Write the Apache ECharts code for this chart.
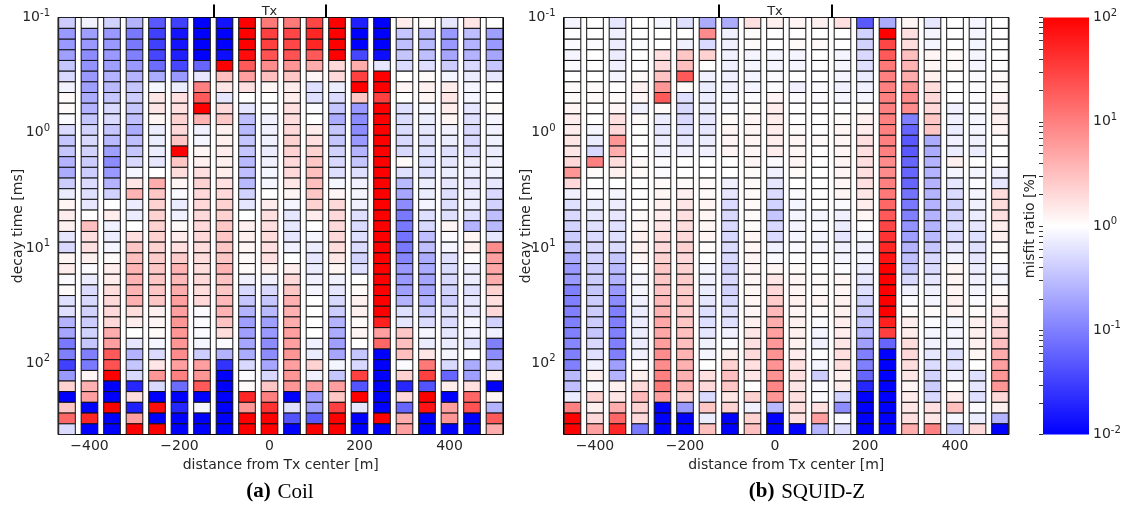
<!DOCTYPE html>
<html><head><meta charset="utf-8">
<script src="https://cdn.jsdelivr.net/npm/echarts@6/dist/echarts.min.js"></script>
<style>html,body{margin:0;padding:0;background:#fff}#c{width:1126px;height:508px}</style>
</head><body><div id="c"></div>
<script>
// ---------------- data ----------------
const distances = [-450,-400,-350,-300,-250,-200,-150,-100,-50,0,50,100,150,200,250,300,350,400,450,500];
const gateTimesMs = [0.111,0.138,0.171,0.211,0.262,0.324,0.401,0.497,0.615,0.762,0.943,1.17,1.45,1.79,2.22,2.75,3.40,4.21,5.22,6.46,8.00,9.90,12.3,15.2,18.8,23.3,28.8,35.7,44.2,54.8,67.8,84.0,104,129,159,197,244,303,375];
const xTickValues = [-400,-200,0,200,400];
const yTickExponents = [-1,0,1,2];
const colorbarExponents = [-2,-1,0,1,2];
const txLoopEdges = [-125,125];
const panelTitles = [['(a)','Coil'],['(b)','SQUID-Z']];
// misfit ratio, given as log10 of the ratio in % (rows = time gates, columns = distances)
const coilLog10 = [
[-0.4,-0.1,-0.35,-0.6,-1.3,-1.5,-2,-1.85,2,1.05,1.05,1.45,2,-1.75,-2,0.15,0.04,-0.2,0.2,0],
[-0.8,-0.75,-0.8,-1.05,-1.5,-1.85,-2,-2,2,1.5,1.45,1.7,2,-2,-2,-0.45,-0.55,-0.8,-0.5,-0.75],
[-0.8,-0.8,-0.8,-1.05,-1.5,-1.85,-2,-2,2,1.5,1.45,1.7,2,-2,-2,-0.5,-0.55,-0.8,-0.6,-0.8],
[-0.75,-0.9,-0.8,-1,-1.45,-1.75,-2,-1.9,1.9,1.35,1.35,1.3,2,-1.45,-1.9,-0.45,-0.5,-0.7,-0.6,-0.7],
[-0.45,-0.85,-0.75,-0.8,-1.15,-1.45,-1.2,2,1.3,0.9,0.82,0.65,0.3,0.65,-0.2,-0.28,-0.25,-0.4,-0.3,-0.45],
[-0.3,-0.8,-0.6,-0.6,-0.65,-0.8,-0.2,0.5,0.75,0.5,0.45,0.08,0.3,1.5,2,0,0.04,-0.08,-0.15,-0.2],
[-0.1,-0.75,-0.55,-0.45,-0.08,-0.15,1,0.2,0.25,0.08,0.15,-0.25,-0.15,2,2,0.08,0.12,0.15,-0.08,0],
[0.05,-0.65,-0.45,-0.4,0.2,0.25,1.3,-0.2,0,0,0.15,-0.25,-0.28,0.45,1.5,0,0.08,0.2,-0.08,0],
[0.04,-0.6,-0.3,-0.45,0.2,0.25,2,0.3,-0.2,-0.04,0.25,-0.04,-0.45,-0.8,2,-0.25,-0.08,0.15,-0.2,0.04],
[-0.04,-0.45,-0.28,-0.5,0.08,0.35,0.6,0.45,-0.5,-0.12,0.27,0,-0.65,-0.9,2,-0.28,-0.15,0.08,-0.25,-0.08],
[-0.28,-0.35,-0.45,-0.65,-0.15,0.3,-0.12,0.12,-0.55,-0.12,0.3,0.15,-0.45,-0.9,2,-0.28,-0.2,-0.12,-0.3,-0.12],
[-0.45,-0.3,-0.55,-0.5,-0.15,0.45,-0.08,0.12,-0.45,-0.12,0.35,0.25,-0.45,-0.8,2,-0.3,-0.25,-0.15,-0.3,-0.12],
[-0.45,-0.35,-0.75,-0.45,-0.15,2,0.08,0.15,-0.45,-0.15,0.35,0.35,-0.35,-0.6,2,-0.3,-0.25,-0.25,-0.28,-0.15],
[-0.6,-0.4,-0.9,-0.3,-0.2,0.45,0.12,0.12,-0.55,-0.12,0.3,0.45,-0.3,-0.45,2,0.04,-0.25,-0.2,-0.15,-0.12],
[-0.65,-0.4,-0.8,-0.08,0,0.27,0.25,0.15,-0.5,-0.08,0.3,0.5,-0.25,-0.25,2,-0.25,-0.25,-0.15,-0.15,-0.12],
[-0.4,-0.28,-0.6,0.2,0.65,0.08,0.35,0.25,-0.55,-0.08,0.2,0.5,-0.08,-0.12,2,-0.55,-0.15,-0.2,-0.2,-0.2],
[-0.15,-0.25,-0.35,0.6,0.45,-0.03,0.3,0.3,-0.35,0,0.08,0.45,0.08,-0.08,2,-0.7,-0.15,-0.25,-0.15,-0.3],
[0.08,-0.2,0,-0.15,0.35,-0.15,0.3,0.35,-0.2,0.15,-0.08,0.35,0.3,-0.12,2,-0.9,-0.08,-0.25,-0.15,-0.35],
[0.15,0,0.15,-0.15,0.35,-0.12,0.3,0.35,0,0.25,-0.2,0.15,0.3,-0.25,2,-1.05,-0.25,-0.25,-0.25,-0.5],
[0.12,0.5,-0.12,0,0.35,0.04,0.3,0.45,0.12,0.25,-0.2,0,0.3,-0.28,2,-1.05,-0.3,0.08,-0.6,-0.55],
[-0.2,0.25,-0.15,0.25,0.35,0.15,0.3,0.45,0.12,0.27,-0.2,-0.08,0.3,-0.25,2,-1.1,-0.5,-0.04,0.08,-0.2],
[-0.3,0.25,-0.08,0.45,0.35,0.25,0.27,0.45,0.08,0.25,-0.12,-0.15,0.27,-0.28,2,-1.05,-0.5,-0.08,0.12,0.9],
[0.08,0.12,0.04,0.5,0.4,0.4,0.27,0.45,0.04,0.25,0,-0.2,0.2,-0.35,2,-0.95,-0.65,-0.25,0,0.75],
[0.15,-0.04,0.15,0.6,0.45,0.6,0.27,0.6,0.04,0.12,0.15,-0.15,0.08,-0.25,2,-0.8,-0.65,-0.28,-0.15,0.7],
[-0.04,-0.15,0.15,0.6,0.45,0.55,0.3,0.47,-0.12,-0.12,0.3,-0.12,-0.12,0,2,-0.8,-0.7,-0.3,-0.15,0.65],
[0.04,-0.28,0.27,0.6,0.45,0.65,0.27,0.45,-0.3,-0.3,0.45,-0.08,-0.2,0.04,2,-0.75,-0.7,-0.35,-0.25,0.35],
[-0.25,-0.3,0.3,0.62,0.45,0.75,0.3,0.55,-0.45,-0.45,0.62,0,-0.3,0.12,2,-0.6,-0.6,-0.4,-0.2,0.25],
[-0.25,-0.35,0.3,0.27,0.12,0.75,-0.04,0.6,-0.6,-0.55,0.62,0,-0.4,0.12,2,-0.25,-0.4,-0.25,-0.2,0.3],
[-0.6,-0.4,0.3,0.15,0.08,0.82,-0.04,0.47,-0.75,-0.75,0.65,0,-0.6,0.04,1.75,-0.2,-0.28,-0.28,-0.08,-0.35],
[-0.7,-0.35,0.65,0,0.04,0.82,-0.04,0.27,-0.75,-0.8,0.75,0,-0.65,0.08,0.75,0.45,-0.08,-0.2,-0.12,-0.12],
[-1.05,-0.45,0.75,-0.2,-0.08,0.82,-0.08,-0.04,-0.7,-0.9,0.75,-0.12,-0.75,0,1.2,0.5,-0.15,-0.15,-0.25,-1],
[-1,-1,1.3,-0.6,-0.28,0.9,-0.4,-0.6,-0.65,-0.9,0.82,-0.15,-0.7,-0.45,-2,0.5,0.2,-0.08,0,-0.9],
[-1.5,-1.05,1.35,-0.45,0.2,0.75,0.75,-1.6,-0.3,-0.7,0.75,0.35,-0.08,-0.3,-2,-0.04,1.05,-0.3,-0.65,-0.5],
[-0.8,0.08,2,-0.3,0.82,1,0.82,-2,-0.04,-0.3,0.82,-0.12,-0.45,1.5,-2,0.35,1.5,-1.2,-0.75,0.12],
[0.35,0.62,-2,-1.7,-0.3,-1.15,1.3,-2,0.04,0.45,0.82,0.75,0.75,-1.35,-2,-1.7,-1.35,0.15,0.25,-2],
[-2,0.75,-2,0.27,-2,-2,-2,-2,1.7,1,-2,-0.8,0.45,2,-2,0.3,2,-2,1.2,0.08],
[0.45,-2,2,-1.75,1.9,-1.7,-0.08,-2,0.82,1.6,-0.25,-0.75,1.5,-0.2,-2,-1.2,1.85,0.75,1.35,-0.6],
[1.2,1.7,-2,0.75,-2,-2,-2,-2,2,2,-1.35,-1.3,2,-2,2,0.65,-2,0.82,-2,1.3],
[-0.28,-2,-2,2,2,-2,-2,-2,2,2,-2,2,2,-2,-2,0.75,-2,-2,-2,0.65]
];
const squidLog10 = [
[-0.08,0,-0.2,0,-0.08,-0.25,-0.65,-0.65,0.25,0.12,0.08,0.12,0.25,-1.3,-0.65,0.08,-0.2,0,-0.08,0],
[0,0,-0.12,0,0,0,0.9,-0.12,0.04,0,0,0,0,-0.35,2,0.25,-0.08,0,-0.08,0],
[-0.04,-0.04,-0.15,-0.04,0,-0.12,-0.28,-0.12,0.04,0,0.04,0.04,0,-0.35,1.45,0.27,-0.08,0,-0.08,0],
[-0.08,0,-0.15,0,0.25,0.45,0.35,-0.12,-0.08,-0.08,-0.08,0,-0.08,-0.3,1.3,0.5,0.08,0.04,-0.08,0],
[-0.04,0,-0.12,0,0.3,0.5,0,-0.12,-0.08,-0.08,-0.08,0,-0.08,-0.25,1.05,0.6,0.08,0.04,-0.08,0],
[0,0,-0.08,0.04,0.47,1.3,-0.12,-0.12,-0.08,-0.04,0,0,-0.08,-0.15,1,0.65,0.12,0,-0.04,0.04],
[0.04,0.04,0,0.12,0.82,0.04,-0.15,-0.12,-0.08,-0.04,-0.12,-0.04,-0.12,-0.12,1,0.82,0.27,0,-0.04,0.04],
[0.04,0.04,0.04,0.08,1.3,-0.25,-0.15,-0.08,-0.04,0.08,-0.04,-0.04,-0.08,-0.08,1,0.9,0.3,0,-0.04,0.08],
[0.08,0,0.08,-0.12,0.04,-0.3,-0.15,-0.04,0.04,0.15,0,0,0,0.04,1,0.9,0.3,-0.12,-0.04,0.12],
[0.15,0,0.25,0.04,-0.15,-0.3,-0.2,0.04,0.08,0.15,0,0,0.04,0.12,1,-1,0.45,-0.12,-0.08,0.12],
[0.15,-0.08,0.3,0,-0.2,-0.25,-0.2,0.08,0.08,0.15,0.04,0,0.08,0.15,1,-1.2,0.45,-0.15,-0.08,0.08],
[0.2,-0.15,0.82,0,-0.15,-0.2,-0.15,0.08,0.08,0.15,0.08,0.04,0.08,0.25,1,-1.3,-0.65,-0.12,-0.12,0],
[0.2,-0.3,0.65,0,-0.12,-0.12,-0.12,0.08,0.08,0.15,0.08,0,0.08,0.25,1,-1.3,-0.65,-0.15,-0.15,0],
[0.3,1,0.27,0.04,-0.04,0,0,0,0.08,-0.04,0.08,0,0.08,0.25,0.9,-1.2,-0.6,0.12,0,0],
[0.82,0.04,0.12,0.04,-0.04,0,0,0,0.04,-0.12,0.04,0,0.08,0.25,0.9,-1.2,-0.6,-0.08,-0.08,-0.12],
[0.3,0,0,0,0.04,0.04,0.04,-0.12,0.04,-0.2,0,0,0.08,0.25,1,-1.2,-0.6,-0.2,-0.04,-0.2],
[-0.12,-0.04,-0.08,0,0.08,0.12,0.04,-0.2,0.04,-0.28,-0.04,0,0.08,0.2,1.05,-1.1,-0.6,-0.28,-0.08,0.27],
[-0.25,-0.15,-0.15,0,0.12,0.2,0.08,-0.28,0.04,-0.35,-0.08,0,-0.04,0.15,1.2,-1.05,-0.6,-0.35,-0.12,0.27],
[-0.3,-0.2,-0.2,0.04,0.15,0.25,0.08,-0.3,0.04,-0.45,-0.08,-0.08,-0.12,0.08,1.3,-1,-0.6,-0.35,-0.15,0.25],
[-0.35,-0.25,-0.25,0.08,0.2,0.27,0.08,-0.3,0.04,-0.3,-0.08,-0.04,-0.15,0,1.45,-0.85,-0.6,-0.28,-0.2,0.15],
[-0.4,-0.28,-0.25,0.12,0.27,0.3,0.08,-0.3,0.08,-0.28,-0.08,-0.08,-0.2,-0.08,1.6,-0.75,-0.55,-0.28,-0.25,0.12],
[-0.45,-0.3,-0.28,0.12,0.3,0.35,0.04,-0.28,0.08,-0.12,-0.04,-0.08,-0.12,-0.12,1.7,-0.6,-0.45,-0.2,-0.25,0.04],
[-0.65,-0.35,-0.45,0.08,0.35,0.3,0,-0.3,0.08,-0.04,0,0,-0.08,-0.08,1.85,-0.5,-0.3,-0.08,-0.2,0],
[-0.8,-0.4,-0.55,-0.04,0.45,0.35,-0.08,-0.35,0.08,0.08,0.04,0,-0.04,-0.15,2,-0.45,-0.28,0.08,-0.15,-0.08],
[-0.8,-0.4,-0.6,-0.08,0.45,0.4,-0.12,-0.3,0.08,0.2,0.08,0.04,0.08,-0.2,2,-0.3,-0.2,0.08,-0.12,-0.08],
[-1,-0.45,-0.8,-0.08,0.47,0.4,-0.15,-0.35,0.08,0.3,0.08,0.04,0.08,-0.25,2,-0.12,-0.12,0.08,-0.08,0.04],
[-1,-0.4,-0.9,-0.12,0.55,0.45,-0.2,-0.3,0.08,0.4,0.12,0.08,0.12,-0.35,2,-0.04,-0.08,0.12,-0.04,0.08],
[-1,-0.4,-1,-0.15,0.6,0.4,-0.25,-0.25,0.08,0.55,0.08,0.04,0.12,-0.4,2,0.04,0.04,0.08,0.04,0.2],
[-1,-0.4,-1,-0.15,0.7,0.45,-0.25,-0.25,0.12,0.65,0.12,-0.04,0.15,-0.45,1.75,0.15,-0.04,-0.08,0.12,0.3],
[-1,-0.45,-1,-0.15,0.7,0.5,-0.2,-0.12,0.2,0.75,0.12,-0.08,0.15,-0.55,1.5,0.15,-0.08,-0.08,0.12,0.35],
[-0.95,-0.3,-1,-0.15,0.78,0.5,-0.12,-0.04,0.25,0.8,0.12,-0.12,0.2,-0.75,-1.2,0.27,-0.12,-0.08,0.12,0.5],
[-1,-0.25,-1,-0.12,0.9,0.6,-0.08,0.12,0.3,0.85,0.15,0,0.25,-1,-2,0.3,-0.2,-0.25,0.08,0.65],
[-1,-0.12,-0.75,-0.04,0.9,0.62,0,0.35,0.25,0.85,0.25,-0.08,0.27,-1,-2,0.27,-0.28,-0.25,0,0.75],
[-0.55,0.12,-0.6,0.12,1,0.62,0.25,0.5,0.2,0.85,0.25,-0.4,0.12,-1.2,-2,0.2,-0.35,-0.12,-0.25,0.82],
[-0.5,-0.04,0.12,0.3,1.05,0.62,0.3,0.45,0,0.95,0.2,-0.04,0.15,-1.7,-2,0.08,-0.4,0,-0.2,0.82],
[-0.15,0.35,0.2,0.55,0.75,0.35,-0.28,0.2,0.35,0.82,0.25,-0.04,-0.35,-2,-2,0.15,-0.3,0.15,-0.25,0.3],
[1,0.12,0.65,0.35,-2,-0.8,0.45,0.35,-0.12,-0.55,0.27,0.25,-0.9,-2,-2,0.2,0.25,0.5,-0.04,0.12],
[2,0.3,1.2,0.3,-2,-2,-0.15,-2,0.35,-2,0.25,0.75,-0.04,-2,-2,0.25,0.2,-0.08,-0.15,-0.6],
[2,0.75,1.7,-1.05,-2,-2,0.5,-2,0.5,-2,-2,-0.6,-0.28,-2,-2,0.65,1,-0.45,0.3,-2]
];

// ---------------- drawing ----------------
const FONT = 'DejaVu Sans';
const TXT = '#262626';
const X_MIN = -470, X_MAX = 520;
const CELL_W = 37; // metres
const gateLog = gateTimesMs.map(t => Math.log10(t));
const gateTop = gateLog.map((l, j) => j === 0 ? l - (gateLog[1] - gateLog[0]) / 2 : (gateLog[j - 1] + l) / 2);
const gateBot = gateLog.map((l, j) => j === gateLog.length - 1 ? l + (l - gateLog[j - 1]) / 2 : (l + gateLog[j + 1]) / 2);
const Y_MIN = gateTop[0], Y_MAX = gateBot[gateBot.length - 1];
const yMinorTicks = [];
for (let n = -1; n <= 2; n++) for (let k = 1; k <= 9; k++) { const v = n + Math.log10(k); if (v >= Y_MIN - 1e-9 && v <= Y_MAX) yMinorTicks.push(v); }
const cbTicks = [];
for (let n = -2; n <= 1; n++) for (let k = 1; k <= 9; k++) cbTicks.push(n + Math.log10(k));
cbTicks.push(2);

function misfitColor(e) {
  const t = Math.max(-1, Math.min(1, e / 2));
  if (t >= 0) { const g = Math.round(255 * (1 - t)); return 'rgb(255,' + g + ',' + g + ')'; }
  const g = Math.round(255 * (1 + t)); return 'rgb(' + g + ',' + g + ',255)';
}
const supRich = {
  b: { fontFamily: FONT, fontSize: 14, color: TXT },
  s: { fontFamily: FONT, fontSize: 10, color: TXT, verticalAlign: 'bottom', padding: [0, 0, 9, 0] }
};
const supFmt = v => { const e = Math.round(v); return '{b|10}{s|' + e + '}'; };

const grids = [
  { left: 58, top: 17.5, width: 445.5, height: 417, show: true, borderColor: '#000', borderWidth: 1, backgroundColor: '#fff' },
  { left: 563.5, top: 17.5, width: 445.5, height: 417, show: true, borderColor: '#000', borderWidth: 1, backgroundColor: '#fff' },
  { left: 1043, top: 17.5, width: 46, height: 417, show: false }
];
const xAxes = [], yAxes = [], series = [];
const nameStyle = { fontFamily: FONT, fontSize: 14, color: TXT };
[coilLog10, squidLog10].forEach((rows, g) => {
  const xi = xAxes.length, yi = yAxes.length;
  xAxes.push({ gridIndex: g, type: 'value', min: X_MIN, max: X_MAX, position: 'bottom', axisLine: { show: false }, splitLine: { show: false },
    axisTick: { inside: true, length: 4, customValues: xTickValues, lineStyle: { color: '#000' } },
    axisLabel: { customValues: xTickValues, formatter: v => v < 0 ? '\u2212' + (-v) : '' + v, color: TXT, fontFamily: FONT, fontSize: 14, margin: 5 },
    name: 'distance from Tx center [m]', nameLocation: 'middle', nameGap: 19, nameTextStyle: nameStyle });
  xAxes.push({ gridIndex: g, type: 'value', min: X_MIN, max: X_MAX, position: 'top', axisLine: { show: false }, splitLine: { show: false },
    axisTick: { inside: true, length: 4, customValues: xTickValues, lineStyle: { color: '#000' } }, axisLabel: { show: false } });
  xAxes.push({ gridIndex: g, type: 'value', min: X_MIN, max: X_MAX, position: 'top', axisLine: { show: false }, splitLine: { show: false },
    axisTick: { inside: false, length: 13, customValues: txLoopEdges, lineStyle: { color: '#000', width: 2 } },
    axisLabel: { customValues: [0], formatter: () => 'Tx', color: TXT, fontFamily: FONT, fontSize: 13, margin: -1 } });
  yAxes.push({ gridIndex: g, type: 'value', inverse: true, min: Y_MIN, max: Y_MAX, position: 'left', axisLine: { show: false }, splitLine: { show: false },
    axisTick: { inside: true, length: 4, customValues: yMinorTicks, lineStyle: { color: '#000' } },
    axisLabel: { customValues: yTickExponents, formatter: supFmt, rich: supRich, margin: 8 },
    name: 'decay time [ms]', nameLocation: 'middle', nameRotate: 90, nameMoveOverlap: false, nameGap: g === 0 ? 33 : 30, nameTextStyle: nameStyle });
  yAxes.push({ gridIndex: g, type: 'value', inverse: true, min: Y_MIN, max: Y_MAX, position: 'right', axisLine: { show: false }, splitLine: { show: false },
    axisTick: { inside: true, length: 4, customValues: yMinorTicks, lineStyle: { color: '#000' } }, axisLabel: { show: false } });
  const data = [];
  rows.forEach((row, j) => row.forEach((v, i) => data.push([distances[i], j, v])));
  series.push({ type: 'custom', xAxisIndex: xi, yAxisIndex: yi, data, clip: true, silent: true,
    renderItem(params, api) {
      const x = api.value(0), j = api.value(1), v = api.value(2);
      const p1 = api.coord([x - CELL_W / 2, gateTop[j]]);
      const p2 = api.coord([x + CELL_W / 2, gateBot[j]]);
      return { type: 'rect', shape: { x: p1[0], y: p1[1], width: p2[0] - p1[0], height: p2[1] - p1[1] },
        style: { fill: misfitColor(v), stroke: '#111', lineWidth: 1 } };
    } });
});
// colorbar
const cbx = xAxes.length, cby = yAxes.length;
xAxes.push({ gridIndex: 2, type: 'value', min: 0, max: 1, show: false });
yAxes.push({ gridIndex: 2, type: 'value', min: -2, max: 2, position: 'right', axisLine: { show: false }, splitLine: { show: false },
  axisTick: { inside: true, length: 4, customValues: cbTicks, lineStyle: { color: '#333' } },
  axisLabel: { customValues: colorbarExponents, formatter: supFmt, rich: supRich, margin: 4 } });
yAxes.push({ gridIndex: 2, type: 'value', min: -2, max: 2, position: 'left', axisLine: { show: false }, splitLine: { show: false },
  axisTick: { show: false }, axisLabel: { show: false },
  name: 'misfit ratio [%]', nameLocation: 'middle', nameRotate: 90, nameMoveOverlap: false, nameGap: 6, nameTextStyle: nameStyle });
series.push({ type: 'custom', xAxisIndex: cbx, yAxisIndex: cby, data: [[0]], silent: true,
  renderItem(params, api) {
    const cs = params.coordSys;
    return { type: 'rect', shape: { x: cs.x, y: cs.y, width: cs.width, height: cs.height },
      style: { fill: new echarts.graphic.LinearGradient(0, 0, 0, 1, [
        { offset: 0, color: misfitColor(2) }, { offset: 0.5, color: misfitColor(0) }, { offset: 1, color: misfitColor(-2) }]) } };
  } });

const capRich = { b: { fontFamily: 'Liberation Serif', fontWeight: 'bold', fontSize: 21, color: '#000' },
                  r: { fontFamily: 'Liberation Serif', fontSize: 21, color: '#000' } };
const chart = echarts.init(document.getElementById('c'));
chart.setOption({
  animation: false,
  grid: grids, xAxis: xAxes, yAxis: yAxes, series,
  graphic: [
    { type: 'text', x: 280, y: 492, style: { text: '{b|' + panelTitles[0][0] + '}  {r|' + panelTitles[0][1] + '}', rich: capRich, align: 'center', verticalAlign: 'middle' } },
    { type: 'text', x: 807, y: 492, style: { text: '{b|' + panelTitles[1][0] + '}  {r|' + panelTitles[1][1] + '}', rich: capRich, align: 'center', verticalAlign: 'middle' } }
  ]
});
</script></body></html>
